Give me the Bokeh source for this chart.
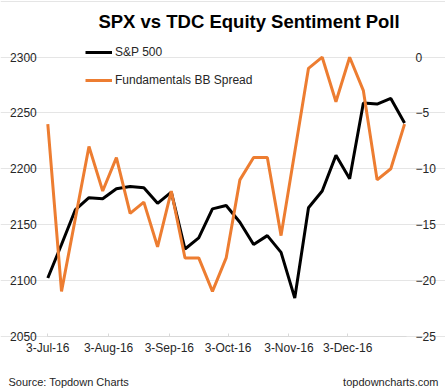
import pandas as pd
from bokeh.plotting import figure
from bokeh.models import (Range1d, LinearAxis, DatetimeAxis, FixedTicker, DatetimeTickFormatter,
                          Legend, LegendItem, Label, ColumnDataSource)
from bokeh.embed import file_html
from bokeh.resources import INLINE

# ---- data (weekly) ----
dates = ["2016-07-03", "2016-07-10", "2016-07-17", "2016-07-24", "2016-07-31",
         "2016-08-07", "2016-08-14", "2016-08-21", "2016-08-28", "2016-09-04",
         "2016-09-11", "2016-09-18", "2016-09-25", "2016-10-02", "2016-10-09",
         "2016-10-16", "2016-10-23", "2016-10-30", "2016-11-06", "2016-11-13",
         "2016-11-20", "2016-11-27", "2016-12-04", "2016-12-11", "2016-12-18",
         "2016-12-25", "2017-01-01"]
spx = [2102, 2132, 2163, 2174, 2173, 2182, 2184, 2183, 2169, 2179,
       2128, 2138, 2164, 2167, 2152, 2132, 2140, 2125, 2084, 2165,
       2180, 2212, 2191, 2259, 2258, 2263, 2241]
spread = [-6, -21, -14.5, -8, -12, -9, -14, -13, -17, -12,
          -18, -18, -21, -18, -11, -9, -9, -16, -8.5, -1,
          0, -4, 0, -3, -11, -10, -6]
x_tick_dates = ["2016-07-03", "2016-08-03", "2016-09-03", "2016-10-03",
                "2016-11-03", "2016-12-03"]
x_axis_span = ["2016-07-03", "2017-01-02"]
left_ticks = [2050, 2100, 2150, 2200, 2250, 2300]
right_ticks = [-25, -20, -15, -10, -5, 0]

title_text = "SPX vs TDC Equity Sentiment Poll"
source_text = "Source: Topdown Charts"
site_text = "topdowncharts.com"
series_names = ["S&P 500", "Fundamentals BB Spread"]

FONT = "Liberation Sans"
TXT = "#262626"
ORANGE = "#ED7D31"

def ms(d):
    return pd.Timestamp(d).value / 1e6

# ---- layout geometry (pixels) ----
W, H = 445, 389
AX_L, AX_R = 47.3, 406.0               # pixel x of axis span ends
Y_TOP_TICK, Y_BOT_TICK = 56.7, 335.5   # pixel y of top / bottom tick

x0 = ms(x_axis_span[0])
x1 = ms(x_axis_span[1])
px_per_ms = (AX_R - AX_L) / (x1 - x0)
xr = Range1d(x0 - AX_L / px_per_ms, x0 + (W - AX_L) / px_per_ms)

def yrange(lo, hi):
    ppu = (Y_BOT_TICK - Y_TOP_TICK) / (hi - lo)
    return Range1d(lo - (H - Y_BOT_TICK) / ppu, hi + Y_TOP_TICK / ppu)

src = ColumnDataSource(dict(date=[ms(d) for d in dates], spx=spx, spread=spread))

p = figure(width=W, height=H, output_backend="svg", toolbar_location=None,
           x_axis_type=None, y_axis_location=None,
           x_range=xr, y_range=yrange(left_ticks[0], left_ticks[-1]),
           min_border_left=0, min_border_right=0, min_border_top=0,
           min_border_bottom=0)
p.extra_y_ranges = {"spread": yrange(right_ticks[0], right_ticks[-1])}
p.outline_line_color = None
p.background_fill_color = "white"
p.border_fill_color = "white"

# x axis
xa = DatetimeAxis(fixed_location=float(left_ticks[0]), bounds=(x0, x1))
xa.ticker = FixedTicker(ticks=[ms(d) for d in x_tick_dates])
xa.formatter = DatetimeTickFormatter(days="%-d-%b-%y", months="%-d-%b-%y")
xa.axis_line_color = "#d9d9d9"
xa.major_tick_line_color = "#d9d9d9"
xa.major_tick_in = 3
xa.major_tick_out = 0
xa.minor_tick_line_color = None
xa.major_label_standoff = 5
xa.major_label_text_font = FONT
xa.major_label_text_font_size = "12px"
xa.major_label_text_color = TXT
p.add_layout(xa, "below")

def yaxis(**kw):
    a = LinearAxis(**kw)
    a.axis_line_color = None
    a.major_tick_line_color = None
    a.minor_tick_line_color = None
    a.major_tick_in = 0
    a.major_tick_out = 0
    a.major_label_text_font = FONT
    a.major_label_text_font_size = "12px"
    a.major_label_text_color = TXT
    return a

ya = yaxis(ticker=FixedTicker(ticks=left_ticks), fixed_location=x0)
ya.major_label_standoff = 11
p.add_layout(ya, "left")

ra = yaxis(ticker=FixedTicker(ticks=right_ticks), y_range_name="spread",
           fixed_location=x1)
ra.major_label_standoff = 9
p.add_layout(ra, "right")

r1 = p.line("date", "spx", source=src, line_color="black", line_width=3)
r2 = p.line("date", "spread", source=src, y_range_name="spread",
            line_color=ORANGE, line_width=3)

# legend: top edge at y=42 px, two rows of 20 px with 8 px gap (bottom at 90 px)
LEG_ROW, LEG_GAP, LEG_TOP = 20, 8, 42
leg = Legend(items=[LegendItem(label=series_names[0], renderers=[r1]),
                    LegendItem(label=series_names[1], renderers=[r2])],
             location=(85, H - (LEG_TOP + 2 * LEG_ROW + LEG_GAP)),
             padding=0, margin=0, spacing=LEG_GAP,
             glyph_width=27, glyph_height=LEG_ROW, label_height=LEG_ROW,
             label_standoff=3, border_line_color=None,
             background_fill_alpha=0, label_text_font=FONT,
             label_text_font_size="12px", label_text_color=TXT)
p.add_layout(leg, "center")

p.add_layout(Label(x=248.5, y=H - 20.7, x_units="screen", y_units="screen",
                   text=title_text, text_font=FONT, text_font_size="18.5px",
                   text_font_style="bold", text_align="center",
                   text_baseline="alphabetic", text_color="black"))
p.add_layout(Label(x=8, y=H - 381.5, x_units="screen", y_units="screen",
                   text=source_text, text_font=FONT, text_font_size="11px",
                   text_align="left", text_baseline="alphabetic", text_color=TXT))
p.add_layout(Label(x=438, y=H - 381.5, x_units="screen", y_units="screen",
                   text=site_text, text_font=FONT, text_font_size="11px",
                   text_align="right", text_baseline="alphabetic", text_color=TXT))

open("out.html", "w").write(file_html(p, INLINE))
